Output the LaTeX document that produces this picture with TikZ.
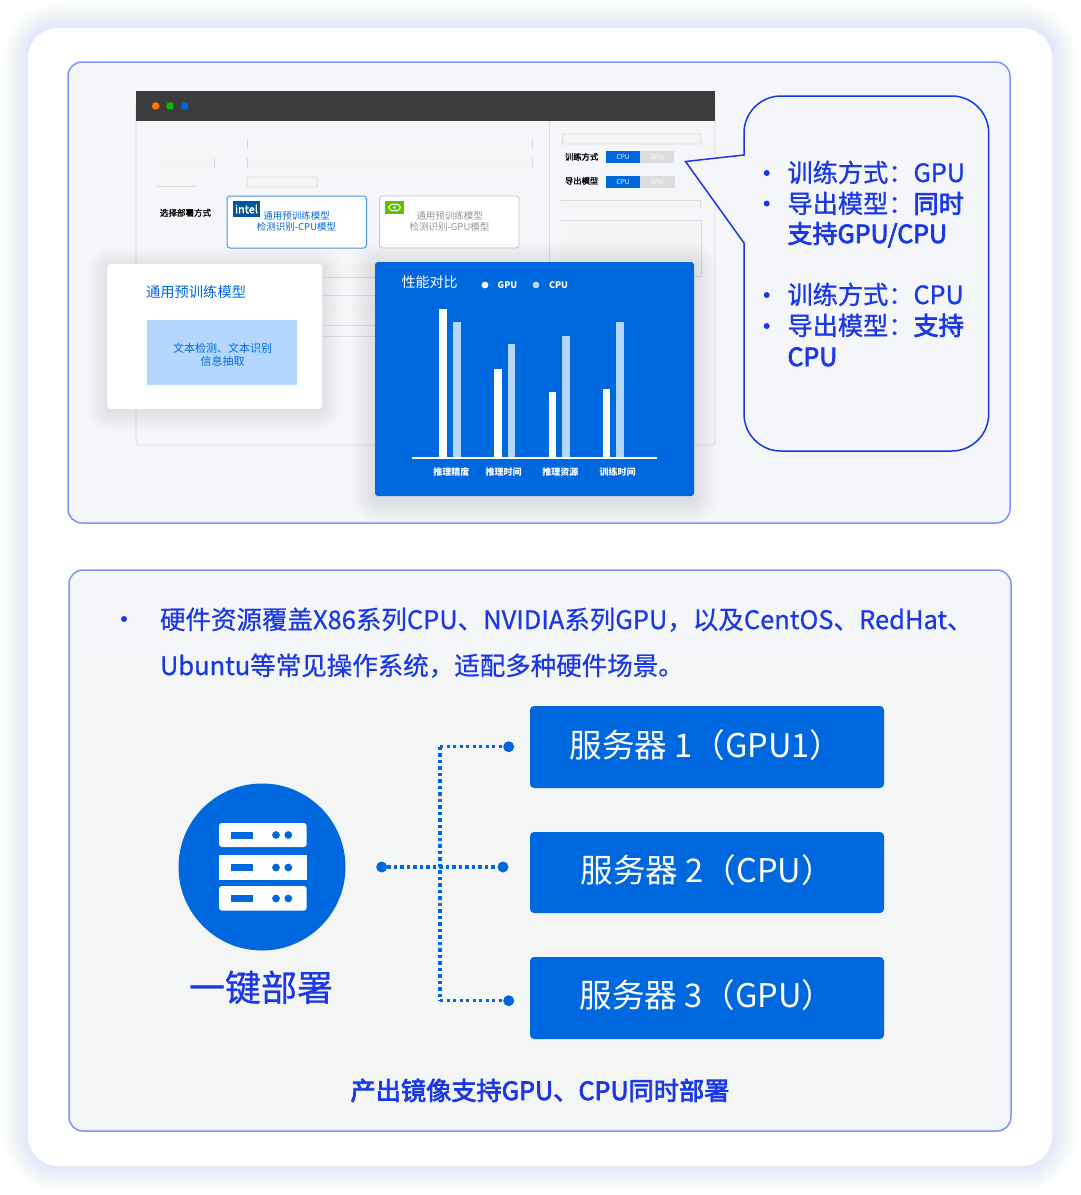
\documentclass[tikz,border=0pt]{standalone}
\usepackage{fontspec}
\setmainfont{Noto Sans CJK SC}
\newcommand{\fs}[1]{\fontsize{#1}{#1}\selectfont}
\newcommand{\wt}[2]{\special{pdf:code 2 Tr #1 w}#2\special{pdf:code 0 Tr}}
\definecolor{brand}{HTML}{0068DE}
\definecolor{deep}{HTML}{1A38E6}
\definecolor{edge}{HTML}{7A96F8}
\definecolor{panelbg}{HTML}{F5F6F9}
\definecolor{innerbg}{HTML}{F4F6F6}
\definecolor{pale}{HTML}{B3D7FF}
\definecolor{chrome}{HTML}{3C3C3C}
\definecolor{faint}{HTML}{F3F4F4}
\definecolor{hair}{HTML}{DCDCDC}
\tikzset{
  x=1pt,y=-1pt,
  every node/.style={inner sep=0,outer sep=0},
  lw/.style={anchor=base west},
  cc/.style={anchor=base},
  dot/.style={circle,fill=brand,minimum size=11pt},
  srv/.style={fill=brand,rounded corners=4pt,minimum width=354pt,minimum height=82pt},
  link/.style={brand,line width=3.4pt,dash pattern=on 3.3pt off 3.2pt},
  panel/.style={fill=panelbg,draw=edge,line width=1.5pt,rounded corners=14pt},
  thin line/.style={draw=hair,line width=.8pt},
  bar w/.style={fill=white},
  bar c/.style={fill=pale},
}
\begin{document}
\begin{tikzpicture}
\useasboundingbox (0,0) rectangle (1080,1195);
\fill[white] (0,0) rectangle (1080,1195);
% outer card
\foreach \d in {24,23,...,1}{\fill[edge,fill opacity=.0065,rounded corners=30+\d] (28-\d,28-\d) rectangle (1052+\d,1166+\d);}
\fill[white,rounded corners=30pt] (28,28) rectangle (1052,1166);
% panels
\draw[panel] (68,62) rectangle (1010,523);
\draw[panel] (69,570) rectangle (1011,1131);
\fill[innerbg,rounded corners=6pt] (71,660) rectangle (989,1122);

% ---- browser window
\fill[panelbg,draw=hair,line width=.8pt,rounded corners=3pt] (136,100) rectangle (715,445);
\fill[chrome] (136,91) rectangle (715,121);
\fill[orange!90!red] (155.7,106) circle (3.8);
\fill[green!75!black] (170,106) circle (3.8);
\fill[brand] (184.7,106) circle (3.8);
\draw[thin line] (549,121) -- (549,262);
% form blocks
\fill[faint] (157,139) rectangle (226,149);
\fill[faint] (247,139) rectangle (532,149);
\draw[thin line] (247,139) -- (247,149) (532,139) -- (532,149);
\fill[faint] (157,158) rectangle (214,168);
\draw[thin line] (214,158) -- (214,168);
\fill[faint] (247,158) rectangle (532,168);
\draw[thin line] (247,158) -- (247,168) (532,158) -- (532,168);
\fill[faint] (157,177) rectangle (196,186);
\draw[thin line] (157,186) -- (196,186);
\draw[fill=faint,thin line,rounded corners=1.5pt] (247,177) rectangle (317.5,187);
\node[lw] (deploy) at (160,216) {\fs{8.5}\wt{.12}{选择部署方式}};
% option cards
\node[fill=white,draw=brand!70!white,line width=1pt,rounded corners=3pt,minimum width=139.5pt,minimum height=52pt] (optA) at (296.8,222) {};
\node[fill=white,draw=black!22,line width=.8pt,rounded corners=3pt,minimum width=139.5pt,minimum height=52pt] (optB) at (449.3,222) {};
\node[fill=blue!45!cyan!60!black,minimum width=27pt,minimum height=16pt,text=white] (intel) at (246.5,209) {\fs{11}\wt{.2}{intel}};
\node[cc,text=brand] (optA1) at (296.5,219.5) {\fs{9.5}通用预训练模型};
\node[cc,text=brand] (optA2) at (296.5,230.5) {\fs{9.5}检测识别-CPU模型};
\node[fill=green!50!yellow!75!black,minimum width=19pt,minimum height=13pt] (nv) at (394.5,207.5) {};
\draw[white,line width=1pt] (394.5,207.5) ellipse (6 and 3.3);
\fill[white] (394.5,207.5) circle (1.4);
\node[cc,text=black!42] (optB1) at (449.5,219.5) {\fs{9.5}通用预训练模型};
\node[cc,text=black!42] (optB2) at (449.5,230.5) {\fs{9.5}检测识别-GPU模型};
% right column
\draw[fill=faint,draw=hair,line width=.8pt,rounded corners=1pt] (562.5,134) rectangle (701,144);
\node[lw] (trainlbl) at (565,160) {\fs{8.3}\wt{.12}{训练方式}};
\node[lw] (explbl) at (565,184) {\fs{8.3}\wt{.12}{导出模型}};
\fill[hair] (640,151) rectangle (674,163);
\fill[hair] (640,176) rectangle (675,188);
\node[fill=brand,text=white,minimum width=33.5pt,minimum height=12pt] (t1c) at (623.2,157) {\fs{6.5}CPU};
\node[text=white,anchor=center] (t1g) at (657,157) {\fs{6.5}GPU};
\node[fill=brand,text=white,minimum width=33.5pt,minimum height=12pt] (t2c) at (623.2,182) {\fs{6.5}CPU};
\node[text=white,anchor=center] (t2g) at (657,182) {\fs{6.5}GPU};
\fill[faint] (560.5,200) rectangle (700,209);
\draw[thin line] (560.5,200) -- (700,200) -- (700,209);
\fill[faint] (560.5,220) rectangle (701.5,276);
\draw[thin line] (560.5,220) -- (701.5,220) -- (701.5,276) -- (694,276);
% lines behind white card
\fill[faint] (322,265) rectangle (378,277);
\draw[thin line] (322,277) -- (378,277) (322,295) -- (378,295) (322,325) -- (378,325) (322,336) -- (378,336);
\fill[faint] (322,306) rectangle (378,316);
% white card
\foreach \d in {20,19,...,1}{\fill[black,fill opacity=.002,rounded corners=4+\d] (107-\d,264-\d+3) rectangle (322+\d,409+\d+3);}
\fill[white,rounded corners=4pt] (107,264) rectangle (322,409);
\node[lw,text=brand] (cardtitle) at (146,297) {\fs{14.3}通用预训练模型};
\node[fill=pale,minimum width=149.5pt,minimum height=65pt] (paleb) at (221.8,352.5) {};
\node[cc,text=brand] (p1) at (222.5,352.7) {\fs{11}文本检测、文本识别};
\node[cc,text=brand] (p2) at (222.5,365.7) {\fs{11}信息抽取};
% blue chart panel
\foreach \d in {24,23,...,1}{\fill[black,fill opacity=.002,rounded corners=3+\d] (375-\d,262-\d+3) rectangle (694+\d,496+\d+3);}
\fill[brand,rounded corners=3pt] (375,262) rectangle (694,496);
\node[lw,text=white] (perf) at (401.5,287) {\fs{14}性能对比};
\fill[white] (485,285) circle (3.4);
\node[lw,text=white] (lg) at (497.7,288.3) {\bfseries\fs{9}GPU};
\fill[pale] (536,285) circle (3.4);
\node[lw,text=white] (lc) at (549,288.3) {\bfseries\fs{9}CPU};
\fill[bar w] (439,309) rectangle (447,457);
\fill[bar c] (452.5,322) rectangle (460.5,457);
\fill[bar w] (494,369.3) rectangle (501.5,457);
\fill[bar c] (507.5,344) rectangle (515,457);
\fill[bar w] (548.6,392) rectangle (556,457);
\fill[bar c] (562,336) rectangle (569.6,457);
\fill[bar w] (603,389) rectangle (610,457);
\fill[bar c] (616,322) rectangle (624,457);
\draw[white,line width=2pt] (412,457.5) -- (656.5,457.5);
\node[cc,text=white] (x1) at (451.4,475.4) {\bfseries\fs{9}推理精度};
\node[cc,text=white] (x2) at (503.5,475.4) {\bfseries\fs{9}推理时间};
\node[cc,text=white] (x3) at (560.3,475.4) {\bfseries\fs{9}推理资源};
\node[cc,text=white] (x4) at (617.5,475.4) {\bfseries\fs{9}训练时间};
% callout
\draw[deep,fill=panelbg,line width=1.5pt,line join=miter]
  (744,155) -- (685.5,161.5) -- (744,243)
  [rounded corners=37pt] -- (744,451) -- (988.7,451) -- (988.7,96) -- (744,96)
  [sharp corners] -- cycle;
\foreach \yy in {173,203.5,295,326}{\fill[deep] (766.7,\yy) circle (3);}
\node[lw,text=deep] (c1) at (787.5,182) {\fs{25.2}\wt{.25}{训练方式：GPU}};
\node[lw,text=deep] (c2) at (787.5,213) {\fs{25.2}\wt{.25}{导出模型：}\wt{.75}{同时}};
\node[lw,text=deep] (c3) at (787.5,243) {\fs{25}\wt{.75}{支持GPU/CPU}};
\node[lw,text=deep] (c4) at (787.5,304) {\fs{25.2}\wt{.25}{训练方式：CPU}};
\node[lw,text=deep] (c5) at (787.5,335) {\fs{25.2}\wt{.25}{导出模型：}\wt{.75}{支持}};
\node[lw,text=deep] (c6) at (787.5,366) {\fs{25}\wt{.75}{CPU}};

% ---- lower panel text
\fill[deep] (124,619) circle (3);
\node[lw,text=deep] (l1) at (160,629) {\fs{25.5}\wt{.15}{硬件资源覆盖X86系列CPU、NVIDIA系列GPU，以及CentOS、RedHat、}};
\node[lw,text=deep] (l2) at (160,675) {\fs{25.5}\wt{.15}{Ubuntu等常见操作系统，适配多种硬件场景。}};
% servers
\node[srv] (s1) at (707,747) {};
\node[srv,minimum height=81pt] (s2) at (707,872.5) {};
\node[srv] (s3) at (707,998) {};
\node[lw,text=white] at (569.5,757) (s1t) {\fs{32.6}服务器 1（GPU1）};
\node[lw,text=white] at (580.5,882) (s2t) {\fs{32.6}服务器 2（CPU）};
\node[lw,text=white] at (579.5,1007.5) (s3t) {\fs{32.6}服务器 3（GPU）};
% icon
\node[circle,fill=brand,minimum size=167pt] (hub) at (262,867) {};
\fill[white,rounded corners=3pt] (219,823) -- (306.7,823) -- (306.7,847) -- (219,847) -- cycle;
\fill[white] (219,855) rectangle (306.7,880);
\fill[white,rounded corners=3pt] (219,886) -- (306.7,886) -- (306.7,910.7) -- (219,910.7) -- cycle;
\foreach \yy in {835,867.5,898.5}{
  \fill[brand] (231,\yy-3.5) rectangle (253.3,\yy+3.5);
  \fill[brand] (276,\yy) circle (3.9);
  \fill[brand] (288.3,\yy) circle (3.9);
}
\node[lw,text=deep] (oneclick) at (189,1001) {\fs{36}\wt{.3}{一键部署}};
% connectors
\coordinate (jt) at (440,746.7);
\coordinate (jb) at (440,1000.7);
\draw[link] (jt) -- (jb);
\node[dot] (d0) at (381.7,867) {};
\node[dot] (d1) at (508.7,746.7) {};
\node[dot] (d2) at (503,867) {};
\node[dot] (d3) at (508.7,1000.7) {};
\draw[link] (jt) -- (d1);
\draw[link] (d0) -- (d2);
\draw[link] (jb) -- (d3);
\node[cc,text=deep] (cap) at (540,1100) {\fs{25.2}\wt{.75}{产出镜像支持GPU、CPU同时部署}};
\end{tikzpicture}
\end{document}
